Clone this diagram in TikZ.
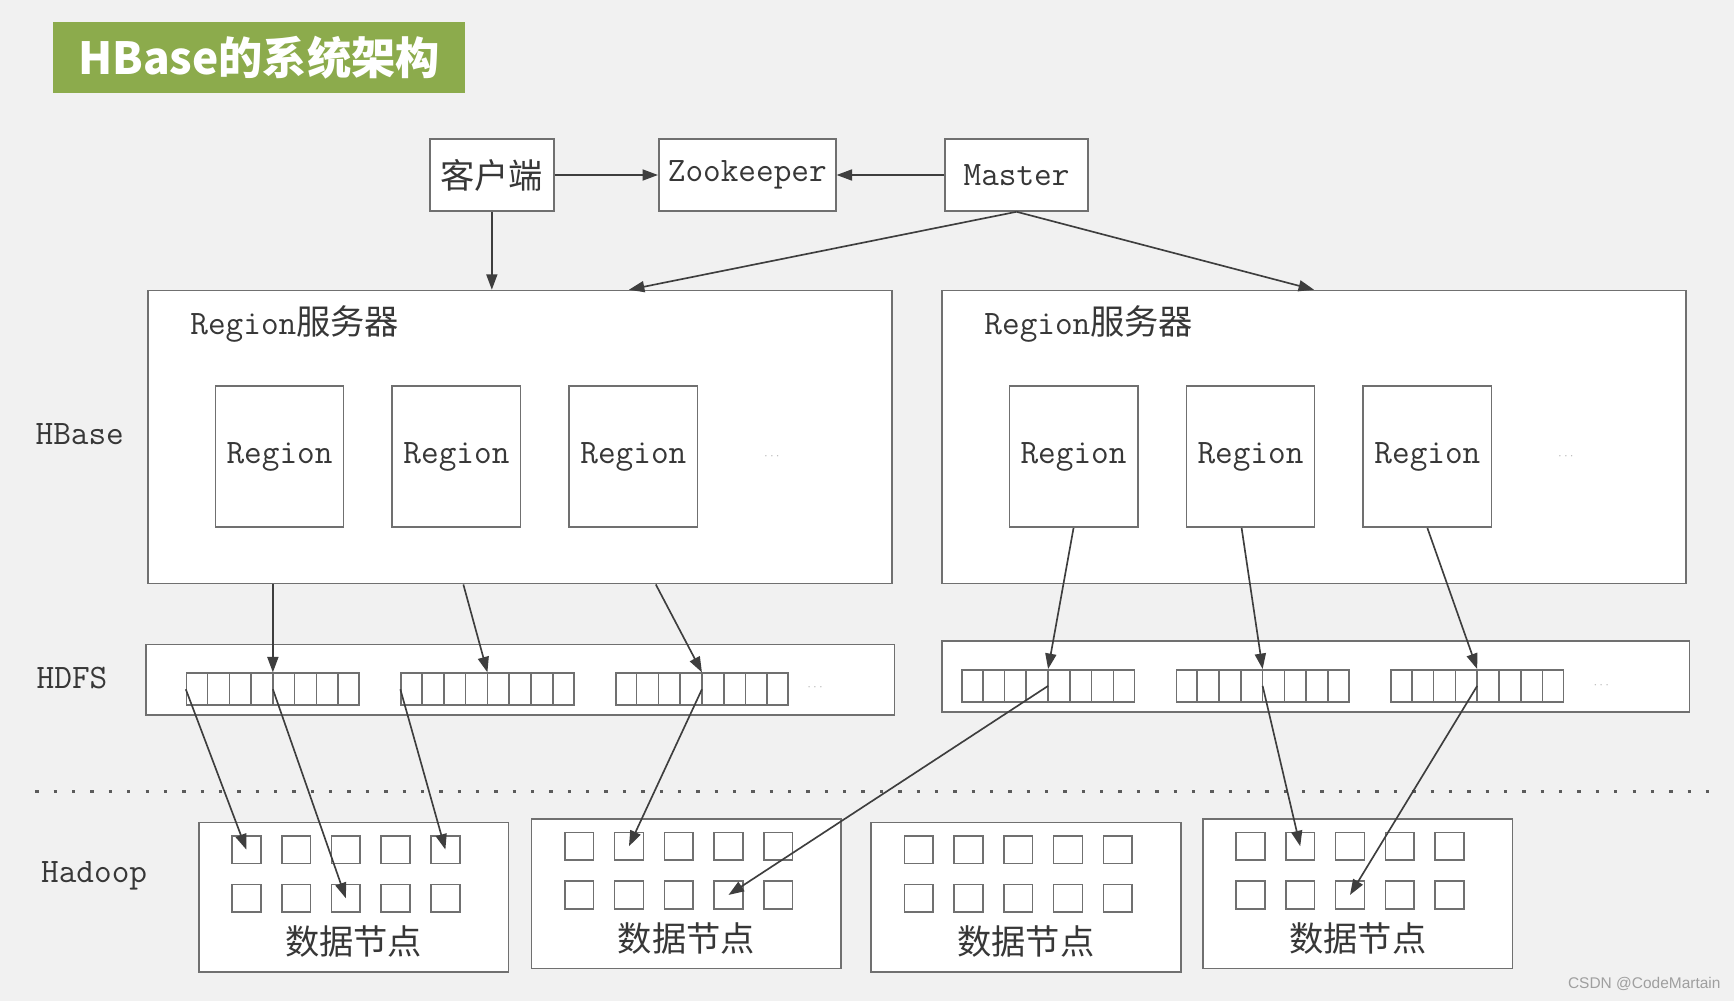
\documentclass[tikz,border=0pt]{standalone}
\usepackage{fontspec}
\usetikzlibrary{arrows.meta,calc}
\newfontfamily\cjk{Noto Sans CJK SC}
\newfontfamily\wmfont{Liberation Sans}
\definecolor{bg}{RGB}{241,241,241}
\definecolor{titlegreen}{RGB}{140,171,76}
\definecolor{edgec}{RGB}{112,112,112}
\definecolor{arrowc}{RGB}{62,62,62}
\definecolor{txt}{RGB}{55,55,55}
\newcommand\latf{\fontsize{31}{34}\selectfont\ttfamily}
\newcommand\cjkf{\fontsize{31}{34}\selectfont\cjk}
\begin{document}
\begin{tikzpicture}[x=1pt,y=-1pt,
  box/.style={draw=edgec, line width=1.5pt, fill=white, inner sep=0pt, anchor=north west, text=txt},
  stripbox/.style={box, minimum width=156pt, minimum height=29pt},
  sq/.style={box, minimum width=26pt, minimum height=25pt},
  arr/.style={draw=arrowc, line width=1.5pt, -{Triangle[length=14pt,width=10pt]}},
  lbl/.style={text=txt, inner sep=0pt, anchor=west},
  dotsn/.style={text=gray!55, inner sep=0pt, font=\fontsize{12}{12}\selectfont},
]
\fill[bg] (0,0) rectangle (1568,905);
\useasboundingbox (0,0) rectangle (1568,905);

% title
\node[fill=titlegreen, minimum width=372pt, minimum height=64pt, anchor=north west,
      inner sep=0pt, text=white, font=\fontsize{40}{42}\selectfont\cjk\bfseries]
      (title) at (48,20) {HBase的系统架构};

% top row
\node[box, minimum width=112pt, minimum height=65pt] (client) at (388,125) {\cjkf 客户端};
\node[box, minimum width=160pt, minimum height=65pt] (zk) at (595,125) {\latf Zookeeper};
\node[box, minimum width=129pt, minimum height=65pt] (master) at (854,125) {\latf Master};

% region servers
\node[box, minimum width=673pt, minimum height=265pt] (rs1) at (133,262) {};
\node[box, minimum width=673pt, minimum height=265pt] (rs2) at (851,262) {};
\node[lbl] (rs1lbl) at (172,293) {\latf Region\cjkf 服务器};
\node[lbl] (rs2lbl) at (890,293) {\latf Region\cjkf 服务器};
\foreach \n/\x in {r1/194, r2/354, r3/514, r4/912, r5/1072, r6/1232}
  \node[box, minimum width=116pt, minimum height=128pt] (\n) at (\x,348) {\latf Region};
\node[dotsn] (rsdots1) at (698,413) {$\cdots$};
\node[dotsn] (rsdots2) at (1416,413) {$\cdots$};

% side labels
\node[lbl] (lhbase) at (32,393) {\latf HBase};
\node[lbl] (lhdfs) at (33,613) {\latf HDFS};
\node[lbl] (lhadoop) at (37,792) {\latf Hadoop};

% HDFS
\node[box, minimum width=677pt, minimum height=64pt] (h1) at (131,582) {};
\node[box, minimum width=676pt, minimum height=64pt] (h2) at (851,579) {};
\foreach \n/\x/\y in {s1/168/608, s2/362/608, s3/556/608, s4/869/605, s5/1063/605, s6/1257/605}{
  \node[stripbox] (\n) at (\x,\y) {};
  \foreach \k in {1,...,7}
    \draw[edgec, line width=1.5pt] ($(\n.north west)!\k/8!(\n.north east)$) -- ($(\n.south west)!\k/8!(\n.south east)$);
}
\node[dotsn] (hdots1) at (737,622) {$\cdots$};
\node[dotsn] (hdots2) at (1448,620) {$\cdots$};

% separator
\draw[arrowc!85, line width=3pt, dash pattern=on 3pt off 13.6pt] (32,716) -- (1552,716);

% data nodes
\foreach \i/\x/\y in {1/179/743, 2/480/740, 3/787/743, 4/1087/740}{
  \node[box, minimum width=280pt, minimum height=135pt] (dn\i) at (\x,\y) {};
  \foreach \r/\ry in {a/12, b/56}{
    \foreach \k/\kx in {1/30, 2/75, 3/120, 4/165, 5/210}{
      \node[sq] (d\i\r\k) at ($(dn\i.north west)+(\kx,\ry)$) {};
    }
  }
  \node[text=txt, inner sep=0pt] (dl\i) at ($(dn\i.south)+(0,-28)$) {\cjkf 数据节点};
}

% connectors: top
\draw[arr] (client) -- (zk);
\draw[arr] (master) -- (zk);
\draw[arr] (client.south) -- (client.south |- rs1.north);
\coordinate (m1) at ($(rs1.north west)!0.646!(rs1.north east)$);
\draw[arr] (master.south) -- (m1);
\draw[arr] (master.south) -- (rs2.north);

% region servers -> HDFS
\draw[arr] (rs1.south -| s1.north) -- (s1.north);
\coordinate (e2) at ($(rs1.south west)!0.424!(rs1.south east)$);
\draw[arr] (e2) -- (s2.north);
\coordinate (e3) at ($(rs1.south west)!0.682!(rs1.south east)$);
\draw[arr] (e3) -- (s3.north);
\draw[arr] (r4.south) -- (s4.north);
\coordinate (e5) at ($(r5.south)+(-8,0)$);
\draw[arr] (e5) -- (s5.north);
\draw[arr] (r6.south) -- (s6.north);

% HDFS -> data nodes
\draw[arr] (s1.west) -- (d1a1.center);
\draw[arr] (s1.center) -- (d1b3.center);
\draw[arr] (s2.west) -- (d1a5.center);
\draw[arr] (s3.center) -- (d2a2.center);
\draw[arr] (s4.center) -- (d2b4.center);
\draw[arr] (s5.center) -- (d4a2.center);
\draw[arr] (s6.center) -- (d4b3.center);

% watermark
\node[text=gray!75, font=\fontsize{14}{14}\selectfont\wmfont, anchor=east, inner sep=0pt] (wm) at (1556,890) {CSDN @CodeMartain};
\end{tikzpicture}
\end{document}
